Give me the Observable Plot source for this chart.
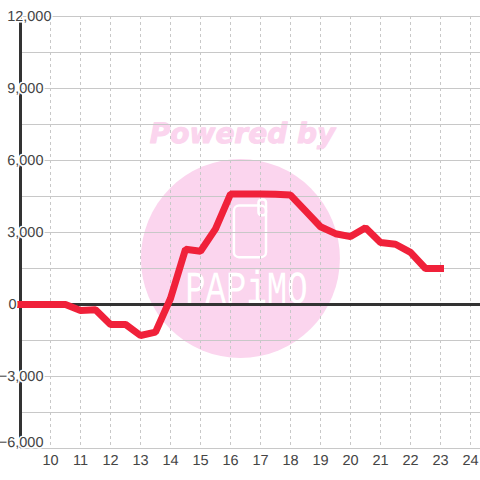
<!DOCTYPE html>
<html><head><meta charset="utf-8">
<script src="https://cdn.jsdelivr.net/npm/d3@7"></script>
<script src="https://cdn.jsdelivr.net/npm/@observablehq/plot@0.6"></script>
<style>html,body{margin:0;padding:0;background:#fff}svg{display:block}svg text{text-rendering:geometricPrecision}</style>
</head><body><div id="chart"></div>
<script>
const hours = [9,9.5,10,10.5,11,11.5,12,12.5,13,13.5,14,14.5,15,15.5,16,16.5,17,17.5,18,18.5,19,19.5,20,20.5,21,21.5,22,22.5,23];
const values = [0,0,0,0,-250,-220,-830,-830,-1290,-1150,250,2300,2220,3150,4600,4600,4600,4590,4560,3900,3240,2950,2830,3200,2580,2510,2170,1500,1500];
const series = hours.map((h,i)=>({h,v:values[i]}));
const xTicks = d3.range(10,25);
const yGrid = d3.range(-6000,12001,1500);
const yMid = [9000,6000,3000];
const yNeg = [-3000];
const fmt = d3.format(",");
const font = "Liberation Sans, Arial, sans-serif";
const labelStyle = {frameAnchor:"left", textAnchor:"end", fontSize:14.5, fontFamily:font, fill:"#444", stroke:"#fff", strokeWidth:3, paintOrder:"stroke", text:d=>fmt(d)};
const stretch = (i,s,v,d,c,n)=>{const g=n(i,s,v,d,c); g.querySelectorAll("text").forEach(t=>t.setAttribute("transform",(t.getAttribute("transform")||"")+" scale(1,1.35)")); return g;};
const plot = Plot.plot({
  width:480, height:480, marginLeft:20, marginRight:0, marginTop:16, marginBottom:32,
  style:{background:"#fff", overflow:"visible"},
  x:{domain:[9,24.3333], axis:null},
  y:{domain:[-6000,12000], axis:null},
  marks:[
    Plot.dot([{x:16.33,y:1917}],{x:"x",y:"y",r:99.5,fill:"#fbd5ee"}),
    Plot.text(["Powered by"],{x:16.4,y:7100,text:d=>d,fontSize:28,fontWeight:"bold",fontStyle:"italic",fontFamily:"DejaVu Sans",fill:"#fbd5ee",stroke:"#fbd5ee",strokeWidth:1}),
    Plot.rect([{x1:16.13,x2:17.2,y1:1950,y2:4100}],{x1:"x1",x2:"x2",y1:"y1",y2:"y2",rx:5,stroke:"#fff",strokeWidth:2.5,fill:"none"}),
    Plot.rect([{x1:16.95,x2:17.2,y1:3700,y2:4350}],{x1:"x1",x2:"x2",y1:"y1",y2:"y2",rx:3,stroke:"#fff",strokeWidth:2.5,fill:"none"}),
    Plot.text(["PAPiMO"],{x:16.53,y:667,text:d=>d,fontSize:34,fontFamily:"Liberation Mono",fill:"#fff",render:stretch}),
    Plot.ruleX(xTicks,{stroke:"#c8c8c8",strokeWidth:1,strokeDasharray:"3 3"}),
    Plot.ruleY(yGrid,{stroke:"#c8c8c8",strokeWidth:1}),
    Plot.ruleX([9],{stroke:"#333",strokeWidth:3}),
    Plot.ruleY([0],{stroke:"#333",strokeWidth:3}),
    Plot.line(series,{x:"h",y:"v",stroke:"#f0213a",strokeWidth:7,strokeLinecap:"square",strokeLinejoin:"miter",curve:"linear"}),
    Plot.text(yMid,{...labelStyle,y:d=>d,dx:23}),
    Plot.text(yNeg,{...labelStyle,y:d=>d,dx:23}),
    Plot.text([-6000],{...labelStyle,y:d=>d,dx:23,dy:-6}),
    Plot.text([12000],{...labelStyle,y:d=>d,dx:31}),
    Plot.text([0],{...labelStyle,y:d=>d,dx:-4}),
    Plot.axisX({ticks:xTicks,tickSize:0,tickPadding:6,anchor:"bottom",label:null,fontSize:14.5,fontFamily:font,color:"#444",tickFormat:d=>String(d)})
  ]
});
document.getElementById("chart").append(plot);
</script></body></html>
